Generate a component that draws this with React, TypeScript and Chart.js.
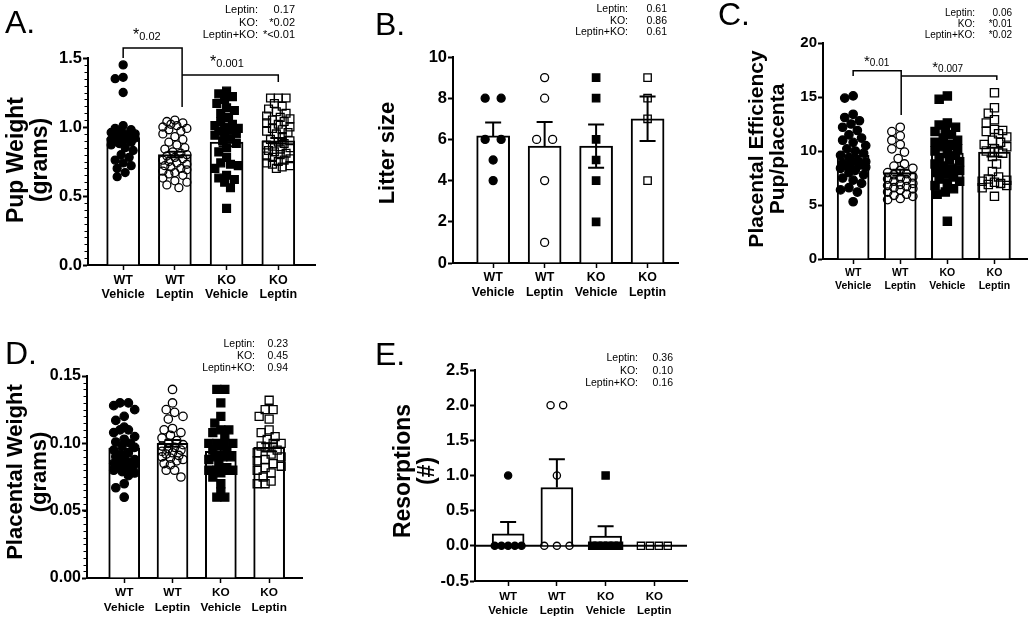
import React, { useEffect, useRef } from 'react';
import { Chart, registerables } from 'chart.js';

Chart.register(...registerables);

const FONT = '"Liberation Sans", Arial, Helvetica, sans-serif';

// ---------- shared ----------
const groupLabels = [['WT', 'Vehicle'], ['WT', 'Leptin'], ['KO', 'Vehicle'], ['KO', 'Leptin']];
const groupX = [0, 1, 2, 3];
const effectNames = ['Leptin:', 'KO:', 'Leptin+KO:'];

// ---------- A. Pup weight (grams) ----------
const pupWtVehicle = [1.45, 1.36, 1.35, 1.25, 1.01, 0.99, 0.98, 0.97, 0.96, 0.95, 0.95, 0.94, 0.93, 0.93, 0.92, 0.92, 0.91, 0.9, 0.9, 0.89, 0.88, 0.87, 0.85, 0.83, 0.8, 0.78, 0.76, 0.74, 0.72, 0.7, 0.67, 0.64];
const pupWtLeptin = [1.05, 1.04, 1.03, 1.02, 1.01, 1.0, 0.99, 0.98, 0.97, 0.95, 0.93, 0.91, 0.89, 0.87, 0.85, 0.84, 0.82, 0.81, 0.8, 0.79, 0.78, 0.77, 0.76, 0.75, 0.74, 0.73, 0.72, 0.71, 0.7, 0.69, 0.68, 0.67, 0.66, 0.65, 0.63, 0.61, 0.6, 0.58, 0.56];
const pupKoVehicle = [1.26, 1.24, 1.22, 1.2, 1.17, 1.14, 1.12, 1.1, 1.07, 1.04, 1.02, 1.01, 1.0, 0.99, 0.98, 0.97, 0.96, 0.95, 0.94, 0.92, 0.9, 0.88, 0.85, 0.82, 0.78, 0.74, 0.73, 0.72, 0.7, 0.65, 0.63, 0.62, 0.6, 0.56, 0.41];
const pupKoLeptin = [1.21, 1.21, 1.21, 1.17, 1.15, 1.13, 1.11, 1.1, 1.08, 1.07, 1.06, 1.05, 1.04, 1.03, 1.02, 1.0, 0.99, 0.98, 0.97, 0.96, 0.95, 0.93, 0.91, 0.9, 0.89, 0.88, 0.87, 0.86, 0.85, 0.84, 0.83, 0.82, 0.81, 0.8, 0.79, 0.78, 0.77, 0.76, 0.75, 0.74, 0.73, 0.72, 0.71, 0.7];
const pupMean = [0.92, 0.8, 0.89, 0.9];
const pupSem = [0.03, 0.02, 0.03, 0.02];
const pupTicks = [0, 0.5, 1.0, 1.5];
const pupP = ['0.17', '*0.02', '*<0.01'];

// ---------- B. Litter size ----------
const litterWtVehicle = [8, 8, 6, 6, 5, 4];
const litterWtLeptin = [9, 8, 6, 6, 4, 1];
const litterKoVehicle = [9, 8, 6, 5, 4, 2];
const litterKoLeptin = [9, 8, 7, 4];
const litterMean = [6.17, 5.67, 5.67, 7.0];
const litterSem = [0.65, 1.17, 1.05, 1.08];
const litterTicks = [0, 2, 4, 6, 8, 10];
const litterP = ['0.61', '0.86', '0.61'];

// ---------- C. Placental efficiency ----------
const effWtVehicle = [15.1, 14.9, 13.4, 13.1, 12.8, 12.5, 12.2, 11.9, 11.5, 11.2, 11.0, 10.8, 10.5, 10.2, 10.0, 9.8, 9.6, 9.4, 9.2, 9.0, 8.9, 8.8, 8.7, 8.6, 8.5, 8.4, 8.2, 8.0, 7.8, 7.5, 7.3, 7.0, 6.6, 6.4, 6.2, 5.3];
const effWtLeptin = [12.2, 11.8, 11.4, 11.0, 10.6, 10.2, 9.9, 9.3, 8.8, 8.6, 8.4, 8.2, 8.0, 7.9, 7.8, 7.6, 7.5, 7.4, 7.3, 7.2, 7.0, 6.9, 6.8, 6.7, 6.6, 6.5, 6.4, 6.2, 6.0, 5.9, 5.8, 5.6, 5.5];
const effKoVehicle = [15.1, 14.8, 12.6, 12.4, 12.2, 12.0, 11.8, 11.5, 11.2, 11.0, 10.8, 10.6, 10.4, 10.2, 10.0, 9.8, 9.6, 9.4, 9.2, 9.0, 8.8, 8.6, 8.4, 8.2, 8.0, 7.8, 7.6, 7.4, 7.2, 7.0, 6.8, 6.5, 6.2, 6.0, 3.5];
const effKoLeptin = [15.4, 14.0, 13.5, 12.9, 12.6, 12.0, 11.9, 11.8, 11.6, 11.3, 11.0, 10.8, 10.6, 10.4, 10.2, 10.0, 9.8, 9.5, 8.8, 8.1, 7.6, 7.4, 7.3, 7.2, 7.1, 7.0, 6.9, 6.8, 6.6, 5.8];
const effMean = [9.6, 8.0, 9.8, 9.9];
const effSem = [0.35, 0.27, 0.38, 0.4];
const effTicks = [0, 5, 10, 15, 20];
const effP = ['0.06', '*0.01', '*0.02'];

// ---------- D. Placental weight (grams) ----------
const plWtVehicle = [0.13, 0.13, 0.128, 0.125, 0.12, 0.117, 0.112, 0.11, 0.11, 0.108, 0.105, 0.103, 0.101, 0.1, 0.098, 0.097, 0.095, 0.093, 0.092, 0.09, 0.09, 0.088, 0.087, 0.086, 0.085, 0.084, 0.083, 0.082, 0.081, 0.08, 0.079, 0.078, 0.076, 0.07, 0.067, 0.06];
const plWtLeptin = [0.14, 0.13, 0.125, 0.123, 0.12, 0.118, 0.111, 0.11, 0.108, 0.106, 0.104, 0.102, 0.1, 0.099, 0.098, 0.097, 0.096, 0.095, 0.094, 0.093, 0.092, 0.091, 0.09, 0.089, 0.088, 0.087, 0.085, 0.084, 0.08, 0.08, 0.075];
const plKoVehicle = [0.14, 0.14, 0.13, 0.12, 0.115, 0.11, 0.11, 0.108, 0.105, 0.1, 0.1, 0.1, 0.1, 0.098, 0.095, 0.093, 0.09, 0.09, 0.09, 0.088, 0.085, 0.082, 0.08, 0.08, 0.08, 0.08, 0.078, 0.075, 0.07, 0.064, 0.06, 0.06];
const plKoLeptin = [0.132, 0.125, 0.125, 0.12, 0.118, 0.11, 0.108, 0.105, 0.103, 0.1, 0.1, 0.098, 0.097, 0.095, 0.093, 0.092, 0.09, 0.088, 0.087, 0.085, 0.083, 0.082, 0.08, 0.078, 0.075, 0.072, 0.07, 0.07];
const plMean = [0.0965, 0.1, 0.094, 0.097];
const plSem = [0.0025, 0.0025, 0.003, 0.003];
const plTicks = [0, 0.05, 0.1, 0.15];
const plP = ['0.23', '0.45', '0.94'];

// ---------- E. Resorptions (#) ----------
const resWtVehicle = [1, 0, 0, 0, 0, 0];
const resWtLeptin = [2, 2, 1, 0, 0, 0];
const resKoVehicle = [1, 0, 0, 0, 0, 0, 0];
const resKoLeptin = [0, 0, 0, 0];
const resMean = [0.17, 0.83, 0.14, 0];
const resSem = [0.17, 0.4, 0.14, 0];
const resTicks = [-0.5, 0, 0.5, 1.0, 1.5, 2.0, 2.5];
const resP = ['0.36', '0.10', '0.16'];

type Bracket = { x1: number; x2: number; y: number; d1: number; d2: number };
type Sig = { x: number; y: number; sub: string };

interface PanelCfg {
  box: { x: number; y: number; w: number; h: number };
  area: { l: number; t: number; r: number; b: number };
  xMin: number; xMax: number;
  yTicks: number[]; decimals: number; minorStep?: number;
  groups: number[][]; means: number[]; sems: number[]; errDown: boolean[];
  barWidth: number; circleR: number; squareHalf: number; rowFactor: number;
  yFont: number; yTick: number; xFont: number; xLine: number; xPad: number;
  letter: string; letterX: number; letterY: number;
  title: string[]; titleX: number[]; titleY: number; titleSize: number;
  pVals: string[]; pLabelRight: number; pValueRight: number; pBase: number[]; pFont: number;
  brackets: Bracket[]; sigs: Sig[]; sigStar: number; sigSub: number;
  zeroLine?: boolean;
}

const panels: PanelCfg[] = [
  {
    box: { x: 0, y: 0, w: 335, h: 305 }, area: { l: 88, t: 58, r: 315, b: 265 },
    xMin: -0.68, xMax: 3.71, yTicks: pupTicks, decimals: 1, minorStep: 0.05,
    groups: [pupWtVehicle, pupWtLeptin, pupKoVehicle, pupKoLeptin], means: pupMean, sems: pupSem, errDown: [true, true, true, true],
    barWidth: 33, circleR: 4, squareHalf: 3.9, rowFactor: 1,
    yFont: 16.5, yTick: 5, xFont: 12.5, xLine: 14, xPad: 4,
    letter: 'A.', letterX: 5, letterY: 33,
    title: ['Pup Weight', '(grams)'], titleX: [17, 41], titleY: 160, titleSize: 23,
    pVals: pupP, pLabelRight: 258, pValueRight: 295, pBase: [13, 26, 38], pFont: 11,
    brackets: [{ x1: 0, x2: 1.14, y: 1.572, d1: 1.5, d2: 1.145 }, { x1: 1.14, x2: 3, y: 1.377, d1: 1.377, d2: 1.326 }],
    sigs: [{ x: 0.19, y: 1.63, sub: '0.02' }, { x: 1.68, y: 1.435, sub: '0.001' }], sigStar: 16, sigSub: 11,
  },
  {
    box: { x: 345, y: 0, w: 340, h: 305 }, area: { l: 453, t: 57, r: 680, b: 263 },
    xMin: -0.78, xMax: 3.6, yTicks: litterTicks, decimals: 0,
    groups: [litterWtVehicle, litterWtLeptin, litterKoVehicle, litterKoLeptin], means: litterMean, sems: litterSem, errDown: [false, false, true, true],
    barWidth: 33, circleR: 4, squareHalf: 3.7, rowFactor: 2,
    yFont: 16.5, yTick: 5, xFont: 12.4, xLine: 14.5, xPad: 2.5,
    letter: 'B.', letterX: 375, letterY: 35,
    title: ['Litter size'], titleX: [388], titleY: 153, titleSize: 22,
    pVals: litterP, pLabelRight: 628, pValueRight: 667, pBase: [11.5, 23.5, 35], pFont: 10.5,
    brackets: [], sigs: [], sigStar: 16, sigSub: 11,
  },
  {
    box: { x: 690, y: 0, w: 345, h: 305 }, area: { l: 823, t: 43, r: 1033, b: 259 },
    xMin: -0.64, xMax: 3.71, yTicks: effTicks, decimals: 0,
    groups: [effWtVehicle, effWtLeptin, effKoVehicle, effKoLeptin], means: effMean, sems: effSem, errDown: [true, true, true, true],
    barWidth: 32, circleR: 4.2, squareHalf: 4.1, rowFactor: 1,
    yFont: 15, yTick: 5, xFont: 10.5, xLine: 13.5, xPad: 2,
    letter: 'C.', letterX: 718, letterY: 25,
    title: ['Placental Efficiency', 'Pup/placenta'], titleX: [757, 778], titleY: 149, titleSize: 21,
    pVals: effP, pLabelRight: 975, pValueRight: 1012, pBase: [15.5, 27, 37.5], pFont: 10,
    brackets: [{ x1: 0, x2: 1.02, y: 17.43, d1: 16.94, d2: 13.33 }, { x1: 1.02, x2: 3.05, y: 16.94, d1: 16.94, d2: 16.57 }],
    sigs: [{ x: 0.23, y: 17.87, sub: '0.01' }, { x: 1.68, y: 17.31, sub: '0.007' }], sigStar: 15, sigSub: 10,
  },
  {
    box: { x: 0, y: 305, w: 335, h: 315 }, area: { l: 87, t: 376, r: 302, b: 578 },
    xMin: -0.77, xMax: 3.68, yTicks: plTicks, decimals: 2, minorStep: 0.005,
    groups: [plWtVehicle, plWtLeptin, plKoVehicle, plKoLeptin], means: plMean, sems: plSem, errDown: [true, true, true, true],
    barWidth: 31, circleR: 4.2, squareHalf: 4, rowFactor: 1,
    yFont: 16, yTick: 5, xFont: 11.8, xLine: 14.5, xPad: 2.5,
    letter: 'D.', letterX: 5, letterY: 364,
    title: ['Placental Weight', '(grams)'], titleX: [16, 40], titleY: 472, titleSize: 22,
    pVals: plP, pLabelRight: 255, pValueRight: 288, pBase: [347, 358.5, 371], pFont: 10.5,
    brackets: [], sigs: [], sigStar: 16, sigSub: 11,
  },
  {
    box: { x: 345, y: 305, w: 350, h: 315 }, area: { l: 475, t: 370, r: 687, b: 581 },
    xMin: -0.68, xMax: 3.67, yTicks: resTicks, decimals: 1,
    groups: [resWtVehicle, resWtLeptin, resKoVehicle, resKoLeptin], means: resMean, sems: resSem, errDown: [false, false, false, false],
    barWidth: 32, circleR: 3.6, squareHalf: 3.6, rowFactor: 1.75,
    yFont: 16.5, yTick: 5, xFont: 11.5, xLine: 14, xPad: 4,
    letter: 'E.', letterX: 375, letterY: 365,
    title: ['Resorptions', '(#)'], titleX: [404, 428], titleY: 471, titleSize: 23,
    pVals: resP, pLabelRight: 638, pValueRight: 673, pBase: [361, 374, 385.5], pFont: 10.5,
    brackets: [], sigs: [], sigStar: 16, sigSub: 11, zeroLine: true,
  },
];

// Deterministic beeswarm layout (pixel space) – spreads tied / close values sideways.
function swarmOffsets(py: number[], rr: number, maxHalf: number, rowFactor: number): number[] {
  const out = new Array(py.length).fill(0);
  const idx = py.map((_, i) => i).sort((a, b) => py[a] - py[b]);
  const rows: number[][] = [];
  for (const i of idx) {
    const last = rows[rows.length - 1];
    if (last && Math.abs(py[last[0]] - py[i]) < 0.01) last.push(i);
    else rows.push([i]);
  }
  const placed: { x: number; y: number }[] = [];
  const d = 2 * rr;
  const step = rr * 0.5;
  for (const row of rows) {
    const m = row.length;
    const sp = m > 1 ? Math.min(d * rowFactor, (2 * maxHalf) / (m - 1)) : 0;
    const half = ((m - 1) * sp) / 2;
    const y = py[row[0]];
    const limit = Math.max(0, maxHalf - half);
    const cands = [0];
    for (let k = 1; k * step <= limit + 1e-9; k++) cands.push(-k * step, k * step);
    let bestC = 0;
    let bestScore = -1;
    for (const c of cands) {
      let minD = Infinity;
      for (let j = 0; j < m; j++) {
        const x = c - half + j * sp;
        for (const p of placed) {
          const dd = Math.hypot(p.x - x, p.y - y);
          if (dd < minD) minD = dd;
        }
      }
      if (minD >= d * 0.98) { bestC = c; break; }
      if (minD > bestScore + 1e-9) { bestScore = minD; bestC = c; }
    }
    row.forEach((i, j) => {
      const x = bestC - half + j * sp;
      out[i] = x;
      placed.push({ x, y });
    });
  }
  return out;
}

function makeDecor(cfg: PanelCfg) {
  const ox = cfg.box.x;
  const oy = cfg.box.y;
  return {
    id: 'panelDecor',
    beforeDatasetsDraw(chart: any) {
      if (!cfg.zeroLine) return;
      const ctx = chart.ctx;
      const ys = chart.scales.y;
      const a = chart.chartArea;
      const y0 = ys.getPixelForValue(0);
      ctx.save();
      ctx.strokeStyle = '#000';
      ctx.lineWidth = 2;
      ctx.beginPath();
      ctx.moveTo(a.left, y0);
      ctx.lineTo(a.right, y0);
      ctx.stroke();
      ctx.restore();
    },
    afterDatasetsDraw(chart: any) {
      const ctx = chart.ctx;
      const xs = chart.scales.x;
      const ys = chart.scales.y;
      ctx.save();
      ctx.strokeStyle = '#000';
      ctx.lineWidth = 2;
      cfg.means.forEach((m, i) => {
        const s = cfg.sems[i];
        if (!s) return;
        const x = xs.getPixelForValue(groupX[i]);
        const yM = ys.getPixelForValue(m);
        const yU = ys.getPixelForValue(m + s);
        ctx.beginPath();
        ctx.moveTo(x, yM);
        ctx.lineTo(x, yU);
        ctx.moveTo(x - 8, yU);
        ctx.lineTo(x + 8, yU);
        if (cfg.errDown[i]) {
          const yD = ys.getPixelForValue(m - s);
          ctx.moveTo(x, yM);
          ctx.lineTo(x, yD);
          ctx.moveTo(x - 8, yD);
          ctx.lineTo(x + 8, yD);
        }
        ctx.stroke();
      });
      ctx.restore();
    },
    afterDraw(chart: any) {
      const ctx = chart.ctx;
      const xs = chart.scales.x;
      const ys = chart.scales.y;
      const a = chart.chartArea;
      ctx.save();
      ctx.fillStyle = '#000';
      ctx.strokeStyle = '#000';

      // minor ticks
      if (cfg.minorStep) {
        const lo = cfg.yTicks[0];
        const hi = cfg.yTicks[cfg.yTicks.length - 1];
        const n = Math.round((hi - lo) / cfg.minorStep);
        ctx.lineWidth = 1.2;
        ctx.beginPath();
        for (let k = 0; k <= n; k++) {
          const y = Math.round(ys.getPixelForValue(lo + k * cfg.minorStep)) + 0.5;
          ctx.moveTo(a.left - 3.5, y);
          ctx.lineTo(a.left, y);
        }
        ctx.stroke();
      }

      // panel letter
      ctx.font = `32px ${FONT}`;
      ctx.textAlign = 'left';
      ctx.textBaseline = 'alphabetic';
      ctx.fillText(cfg.letter, cfg.letterX - ox, cfg.letterY - oy);

      // y-axis title
      ctx.font = `bold ${cfg.titleSize}px ${FONT}`;
      ctx.textAlign = 'center';
      ctx.textBaseline = 'middle';
      cfg.title.forEach((t, i) => {
        ctx.save();
        ctx.translate(cfg.titleX[i] - ox, cfg.titleY - oy);
        ctx.rotate(-Math.PI / 2);
        ctx.fillText(t, 0, 0);
        ctx.restore();
      });

      // two-way ANOVA p-values
      ctx.font = `${cfg.pFont}px ${FONT}`;
      ctx.textBaseline = 'alphabetic';
      ctx.textAlign = 'right';
      effectNames.forEach((lab, i) => {
        ctx.fillText(lab, cfg.pLabelRight - ox, cfg.pBase[i] - oy);
        ctx.fillText(cfg.pVals[i], cfg.pValueRight - ox, cfg.pBase[i] - oy);
      });

      // significance brackets
      ctx.lineWidth = 1.5;
      cfg.brackets.forEach((b) => {
        const x1 = xs.getPixelForValue(b.x1);
        const x2 = xs.getPixelForValue(b.x2);
        const y = ys.getPixelForValue(b.y);
        ctx.beginPath();
        ctx.moveTo(x1, ys.getPixelForValue(b.d1));
        ctx.lineTo(x1, y);
        ctx.lineTo(x2, y);
        ctx.lineTo(x2, ys.getPixelForValue(b.d2));
        ctx.stroke();
      });
      ctx.textAlign = 'left';
      cfg.sigs.forEach((s) => {
        const x = xs.getPixelForValue(s.x);
        const y = ys.getPixelForValue(s.y);
        ctx.font = `${cfg.sigStar}px ${FONT}`;
        ctx.fillText('*', x, y);
        const w = ctx.measureText('*').width;
        ctx.font = `${cfg.sigSub}px ${FONT}`;
        ctx.fillText(s.sub, x + w, y);
      });
      ctx.restore();
    },
  };
}

function buildChart(canvas: HTMLCanvasElement, cfg: PanelCfg) {
  const { box, area } = cfg;
  const styles = [
    { style: 'circle', r: cfg.circleR, fill: '#000', rr: cfg.circleR },
    { style: 'circle', r: cfg.circleR, fill: 'rgba(0,0,0,0)', rr: cfg.circleR },
    { style: 'rect', r: cfg.squareHalf * Math.SQRT2, fill: '#000', rr: cfg.squareHalf },
    { style: 'rect', r: cfg.squareHalf * Math.SQRT2, fill: 'rgba(0,0,0,0)', rr: cfg.squareHalf },
  ];
  const pointSets = cfg.groups.map((vals, gi) => ({
    type: 'scatter',
    label: groupLabels[gi].join(' '),
    data: vals.map((v) => ({ x: groupX[gi], y: v })),
    pointStyle: styles[gi].style,
    pointRadius: styles[gi].r,
    pointHoverRadius: styles[gi].r,
    pointBackgroundColor: styles[gi].fill,
    backgroundColor: styles[gi].fill,
    pointBorderColor: '#000',
    borderColor: '#000',
    pointBorderWidth: 1.3,
    order: 0,
    clip: false,
  }));
  const barSet = {
    type: 'bar',
    label: 'mean',
    data: cfg.means.map((m, i) => ({ x: groupX[i], y: m })),
    backgroundColor: '#fff',
    borderColor: '#000',
    borderWidth: 2,
    barThickness: cfg.barWidth,
    order: 10,
  };
  const yMin = cfg.yTicks[0];
  const yMax = cfg.yTicks[cfg.yTicks.length - 1];
  const chart = new Chart(canvas, {
    type: 'bar',
    data: { datasets: [...pointSets, barSet] as any },
    options: {
      responsive: false,
      animation: false,
      devicePixelRatio: 1,
      events: [],
      layout: { padding: { left: 0, top: area.t - box.y, right: box.x + box.w - area.r, bottom: 0 } },
      plugins: { legend: { display: false }, tooltip: { enabled: false }, title: { display: false } },
      scales: {
        x: {
          type: 'linear',
          min: cfg.xMin,
          max: cfg.xMax,
          offset: false,
          afterBuildTicks: (s: any) => { s.ticks = groupX.map((v) => ({ value: v })); },
          afterFit: (s: any) => { s.height = box.y + box.h - area.b; },
          grid: { display: true, offset: false, drawOnChartArea: false, drawTicks: true, tickLength: 5, tickWidth: 1.5, tickColor: '#000' },
          border: { display: true, color: '#000', width: 2 },
          ticks: {
            color: '#000',
            autoSkip: false,
            maxRotation: 0,
            padding: cfg.xPad,
            font: { family: FONT, size: cfg.xFont, weight: 'bold', lineHeight: `${cfg.xLine}px` },
            callback: (v: any) => groupLabels[Math.round(Number(v))] || '',
          },
        },
        y: {
          type: 'linear',
          min: yMin,
          max: yMax,
          afterBuildTicks: (s: any) => { s.ticks = cfg.yTicks.map((v) => ({ value: v })); },
          afterFit: (s: any) => { s.width = area.l - box.x; },
          grid: { display: true, drawOnChartArea: false, drawTicks: true, tickLength: cfg.yTick, tickWidth: 2, tickColor: '#000' },
          border: { display: true, color: '#000', width: 2 },
          ticks: {
            color: '#000',
            padding: 1,
            font: { family: FONT, size: cfg.yFont, weight: 'bold' },
            callback: (v: any) => Number(v).toFixed(cfg.decimals),
          },
        },
      },
    } as any,
    plugins: [makeDecor(cfg)],
  });

  // spread the points of each group sideways (beeswarm) using the real scales
  const xs: any = chart.scales.x;
  const ys: any = chart.scales.y;
  const pxPerX = xs.getPixelForValue(1) - xs.getPixelForValue(0);
  cfg.groups.forEach((vals, gi) => {
    const rr = styles[gi].rr;
    const maxHalf = cfg.barWidth / 2 - rr + 1;
    const offs = swarmOffsets(vals.map((v) => ys.getPixelForValue(v)), rr, maxHalf, cfg.rowFactor);
    (chart.data.datasets[gi] as any).data = vals.map((v, k) => ({ x: groupX[gi] + offs[k] / pxPerX, y: v }));
  });
  chart.update();
  return chart;
}

function Panel({ cfg }: { cfg: PanelCfg }) {
  const ref = useRef<HTMLCanvasElement>(null);
  useEffect(() => {
    const chart = buildChart(ref.current as HTMLCanvasElement, cfg);
    return () => chart.destroy();
  }, [cfg]);
  return (
    <canvas
      ref={ref}
      width={cfg.box.w}
      height={cfg.box.h}
      style={{ position: 'absolute', left: cfg.box.x, top: cfg.box.y, width: cfg.box.w, height: cfg.box.h }}
    />
  );
}

export default function App() {
  return (
    <div style={{ position: 'absolute', left: 0, top: 0, width: 1035, height: 620, background: '#fff', overflow: 'hidden' }}>
      {panels.map((p, i) => (
        <Panel key={i} cfg={p} />
      ))}
    </div>
  );
}
